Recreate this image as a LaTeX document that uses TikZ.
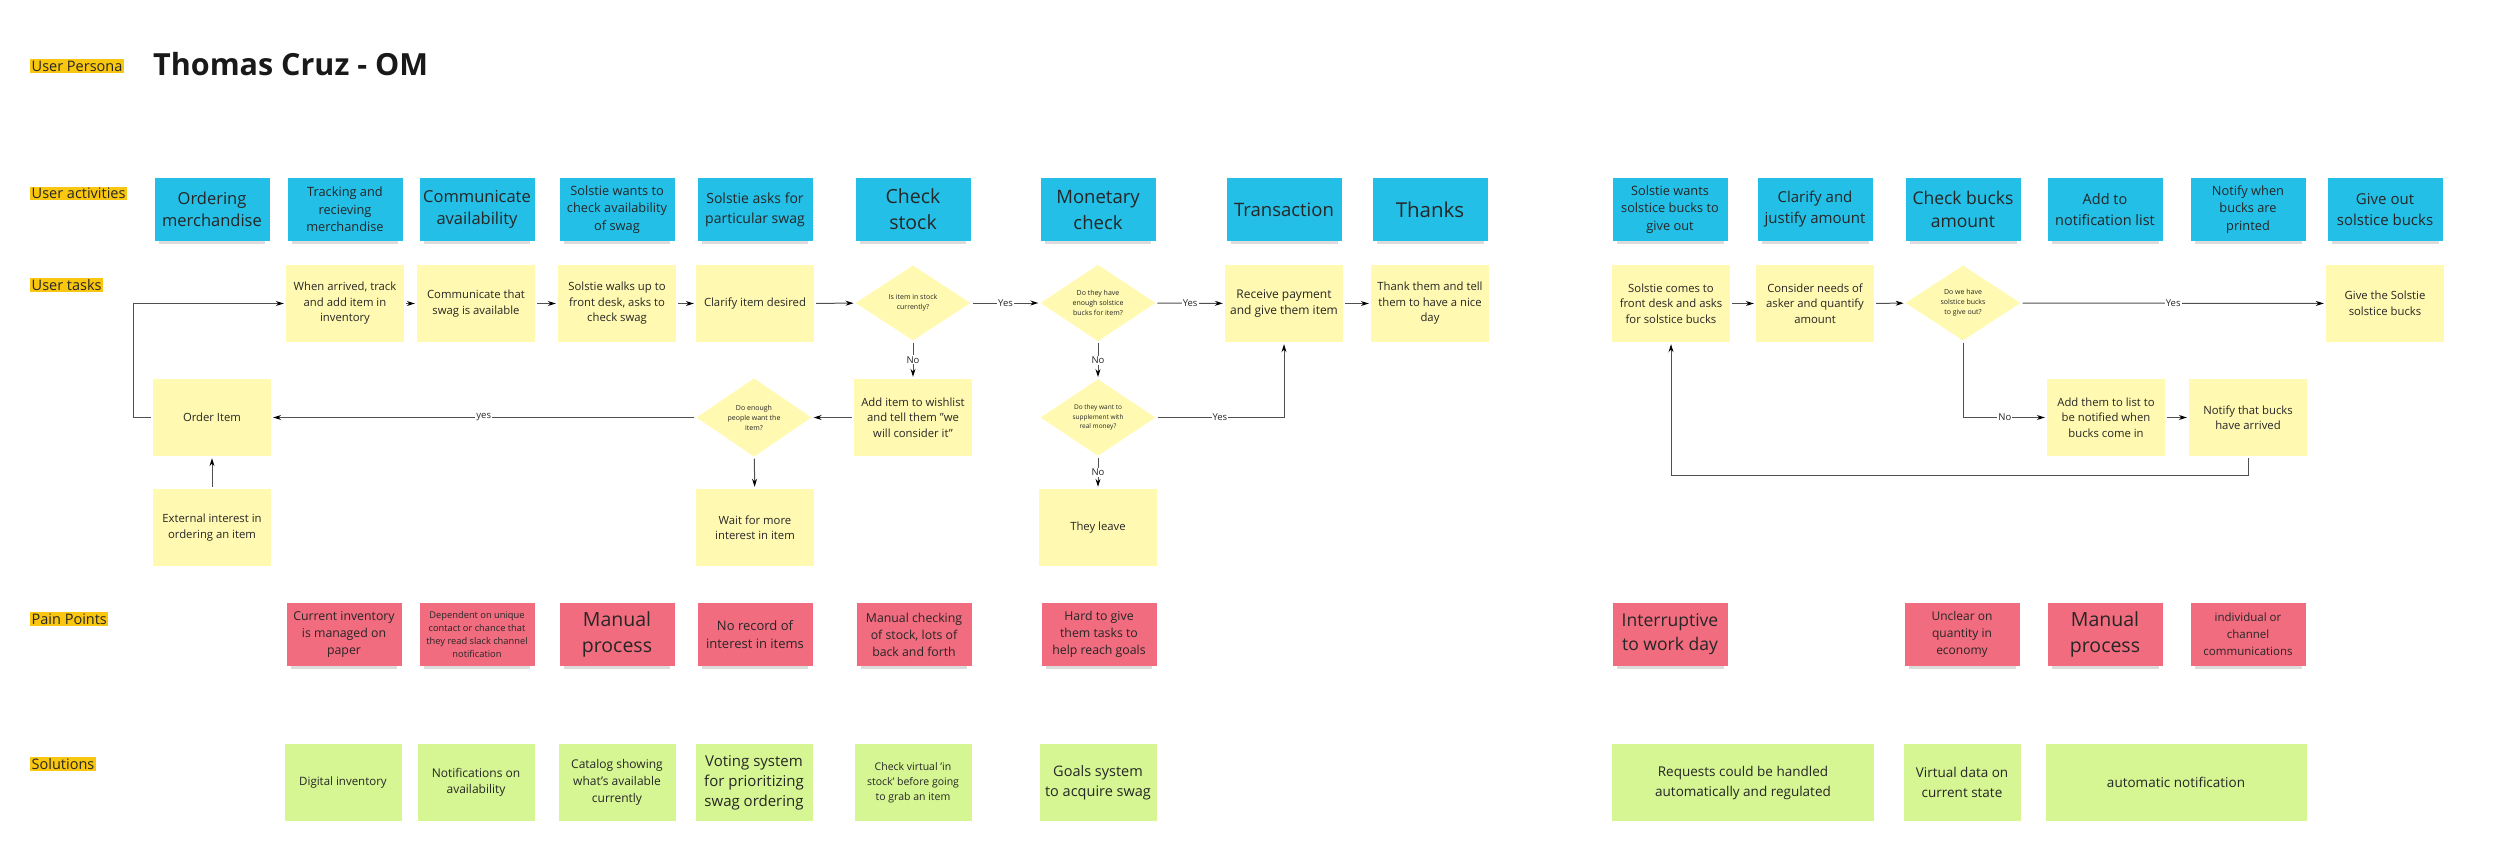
\documentclass[tikz,border=0pt]{standalone}
\usepackage{fontspec}
\setmainfont{Open Sans}
\usetikzlibrary{shapes.geometric,arrows.meta,shadows}

\definecolor{actblue}{HTML}{23BFE7}
\definecolor{taskyellow}{HTML}{FFF9B1}
\definecolor{painred}{HTML}{F16C7F}
\definecolor{solgreen}{HTML}{D5F692}
\definecolor{tagorange}{HTML}{FAC710}
\definecolor{linegray}{HTML}{505050}

\newcommand{\sz}[2]{\fontsize{#1}{#2}\selectfont}

\begin{document}
\begin{tikzpicture}[x=1pt, y=-1pt,
  every node/.style={align=center, inner sep=2pt, text=black!85},
  tag/.style={fill=tagorange, font=\sz{14.5}{17}, anchor=west, inner sep=1.5pt},
  paper/.style={drop shadow={shadow xshift=0pt, shadow yshift=-5.5pt, shadow scale=0.93, opacity=0.28}},
  activity/.style={paper, fill=actblue, minimum width=115pt, minimum height=63pt},
  task/.style={fill=taskyellow, minimum width=118pt, minimum height=77pt, font=\sz{11.3}{15.5}},
  decision/.style={diamond, fill=taskyellow, minimum width=115pt, minimum height=75pt, inner sep=0pt, font=\sz{7}{10}},
  pain/.style={paper, fill=painred, minimum width=115pt, minimum height=63pt},
  solution/.style={fill=solgreen, minimum width=117pt, minimum height=77pt},
  flow/.style={draw=linegray, line width=1pt, -{Stealth[length=8pt, width=5pt, color=black]}, shorten >=2pt, shorten <=2pt},
  lbl/.style={fill=white, font=\sz{9.5}{10}, inner sep=1pt}
]
\useasboundingbox (0,0) rectangle (2500,848);

% row labels and title
\node[tag] (lpersona) at (30,66) {User Persona};
\node[anchor=west, font=\sz{30.5}{36}\bfseries, text=black!90] (title) at (151,64) {Thomas Cruz - OM};
\node[tag] (lact) at (30,193.5) {User activities};
\node[tag] (ltask) at (30,285) {User tasks};
\node[tag] (lpain) at (30,619) {Pain Points};
\node[tag] (lsol) at (30,764) {Solutions};

% user activities
\node[activity, font=\sz{16.5}{22}] (aorder) at (212,209.5) {Ordering\\merchandise};
\node[activity, font=\sz{12.8}{17.5}] (atrack) at (345,209.5) {Tracking and\\recieving\\merchandise};
\node[activity, font=\sz{16.5}{22}] (acomm) at (477,209.5) {Communicate\\availability};
\node[activity, font=\sz{12.8}{17.5}] (awants) at (617,209.5) {Solstie wants to\\check availability\\of swag};
\node[activity, font=\sz{14}{20}] (aasks) at (755,209.5) {Solstie asks for\\particular swag};
\node[activity, font=\sz{19.5}{26}] (astock) at (913,209.5) {Check\\stock};
\node[activity, font=\sz{18.5}{26}] (amoney) at (1098,209.5) {Monetary\\check};
\node[activity, font=\sz{18.5}{24}] (atrans) at (1284,209.5) {Transaction};
\node[activity, font=\sz{20.5}{26}] (athanks) at (1430,209.5) {Thanks};
\node[activity, font=\sz{12.8}{17.5}] (bwants) at (1670,209.5) {Solstie wants\\solstice bucks to\\give out};
\node[activity, font=\sz{15}{21}] (bclarify) at (1815,209.5) {Clarify and\\justify amount};
\node[activity, font=\sz{17.5}{23}] (bcheck) at (1963,209.5) {Check bucks\\amount};
\node[activity, font=\sz{14.5}{21}] (badd) at (2105,209.5) {Add to\\notification list};
\node[activity, font=\sz{12.8}{17.5}] (bnotify) at (2248,209.5) {Notify when\\bucks are\\printed};
\node[activity, font=\sz{15}{21}] (bgive) at (2385,209.5) {Give out\\solstice bucks};

% user tasks, main row
\node[task] (arrived) at (345,303.5) {When arrived, track\\and add item in\\inventory};
\node[task] (commthat) at (476,303.5) {Communicate that\\swag is available};
\node[task] (walks) at (617,303.5) {Solstie walks up to\\front desk, asks to\\check swag};
\node[task] (clarify) at (755,303.5) {Clarify item desired};
\node[decision] (instock) at (913,303) {Is item in stock\\currently?};
\node[decision] (enough) at (1098,303) {Do they have\\enough solstice\\bucks for item?};
\node[task, font=\sz{12}{15.5}] (payment) at (1284,303.5) {Receive payment\\and give them item};
\node[task] (thank) at (1430,303.5) {Thank them and tell\\them to have a nice\\day};

% user tasks, second and third rows
\node[task] (order) at (212,417.5) {Order Item};
\node[decision] (people) at (754,417.5) {Do enough\\people want the\\item?};
\node[task] (wishlist) at (913,417.5) {Add item to wishlist\\and tell them "we\\will consider it"};
\node[decision, font=\sz{6.5}{9.5}] (supplement) at (1098,417.5) {Do they want to\\supplement with\\real money?};
\node[task] (external) at (212,527.5) {External interest in\\ordering an item};
\node[task] (wait) at (755,527.5) {Wait for more\\interest in item};
\node[task] (leave) at (1098,527.5) {They leave};

% solstice bucks flow
\node[task] (comes) at (1671,303.5) {Solstie comes to\\front desk and asks\\for solstice bucks};
\node[task] (consider) at (1815,303.5) {Consider needs of\\asker and quantify\\amount};
\node[decision] (havebucks) at (1963,303) {Do we have\\solstice bucks\\to give out?};
\node[task] (givebucks) at (2385,303.5) {Give the Solstie\\solstice bucks};
\node[task] (addlist) at (2106,417.5) {Add them to list to\\be notified when\\bucks come in};
\node[task] (notify) at (2248,417.5) {Notify that bucks\\have arrived};

% connectors
\draw[flow] (order.west) -- ++(-19,0) |- (arrived.west);
\draw[flow] (arrived) -- (commthat);
\draw[flow] (commthat) -- (walks);
\draw[flow] (walks) -- (clarify);
\draw[flow] (clarify) -- (instock);
\draw[flow] (instock) -- node[lbl] {Yes} (enough);
\draw[flow] (enough) -- node[lbl] {Yes} (payment);
\draw[flow] (payment) -- (thank);
\draw[flow] (instock) -- node[lbl] {No} (wishlist);
\draw[flow] (enough) -- node[lbl] {No} (supplement);
\draw[flow] (wishlist) -- (people);
\draw[flow] (people) -- node[lbl] {yes} (order);
\draw[flow] (people) -- (wait);
\draw[flow] (external) -- (order);
\draw[flow] (supplement.east) -| node[lbl, pos=0.25] {Yes} (payment.south);
\draw[flow] (supplement) -- node[lbl] {No} (leave);
\draw[flow] (comes) -- (consider);
\draw[flow] (consider) -- (havebucks);
\draw[flow] (havebucks) -- node[lbl] {Yes} (givebucks);
\draw[flow] (havebucks.south) |- node[lbl, pos=0.75] {No} (addlist.west);
\draw[flow] (addlist) -- (notify);
\draw[flow] (notify.south) -- ++(0,19) -| (comes.south);

% pain points
\node[pain, font=\sz{12.3}{17}] (pinventory) at (344,634.5) {Current inventory\\is managed on\\paper};
\node[pain, font=\sz{9.3}{13}] (pcontact) at (477,634.5) {Dependent on unique\\contact or chance that\\they read slack channel\\notification};
\node[pain, font=\sz{19.5}{26}] (pmanual) at (617,634.5) {Manual\\process};
\node[pain, font=\sz{13}{18}] (precord) at (755,634.5) {No record of\\interest in items};
\node[pain, font=\sz{12.3}{17}] (pchecking) at (914,634.5) {Manual checking\\of stock, lots of\\back and forth};
\node[pain, font=\sz{12.3}{17}] (pgoals) at (1099,634.5) {Hard to give\\them tasks to\\help reach goals};
\node[pain, font=\sz{17.5}{24}] (pinterrupt) at (1670,634.5) {Interruptive\\to work day};
\node[pain, font=\sz{12}{17}] (punclear) at (1962,634.5) {Unclear on\\quantity in\\economy};
\node[pain, font=\sz{19.5}{26}] (pmanualb) at (2105,634.5) {Manual\\process};
\node[pain, font=\sz{11.5}{17}] (pchannel) at (2248,634.5) {individual or\\channel\\communications};

% solutions
\node[solution, font=\sz{11.5}{16}] (sdigital) at (343,782.5) {Digital inventory};
\node[solution, font=\sz{12}{16}] (snotif) at (476,782.5) {Notifications on\\availability};
\node[solution, font=\sz{12}{17}] (scatalog) at (617,782.5) {Catalog showing\\what's available\\currently};
\node[solution, font=\sz{15}{20}] (svoting) at (754,782.5) {Voting system\\for prioritizing\\swag ordering};
\node[solution, font=\sz{10.5}{15}] (svirtual) at (913,782.5) {Check virtual 'in\\stock' before going\\to grab an item};
\node[solution, font=\sz{14.5}{20}] (sgoals) at (1098,782.5) {Goals system\\to acquire swag};
\node[solution, font=\sz{13.5}{20}, minimum width=262pt] (srequests) at (1743,782.5) {Requests could be handled\\automatically and regulated};
\node[solution, font=\sz{13.5}{20}] (sdata) at (1962,782.5) {Virtual data on\\current state};
\node[solution, font=\sz{13.5}{20}, minimum width=261pt] (sauto) at (2176,782.5) {automatic notification};
\end{tikzpicture}
\end{document}
